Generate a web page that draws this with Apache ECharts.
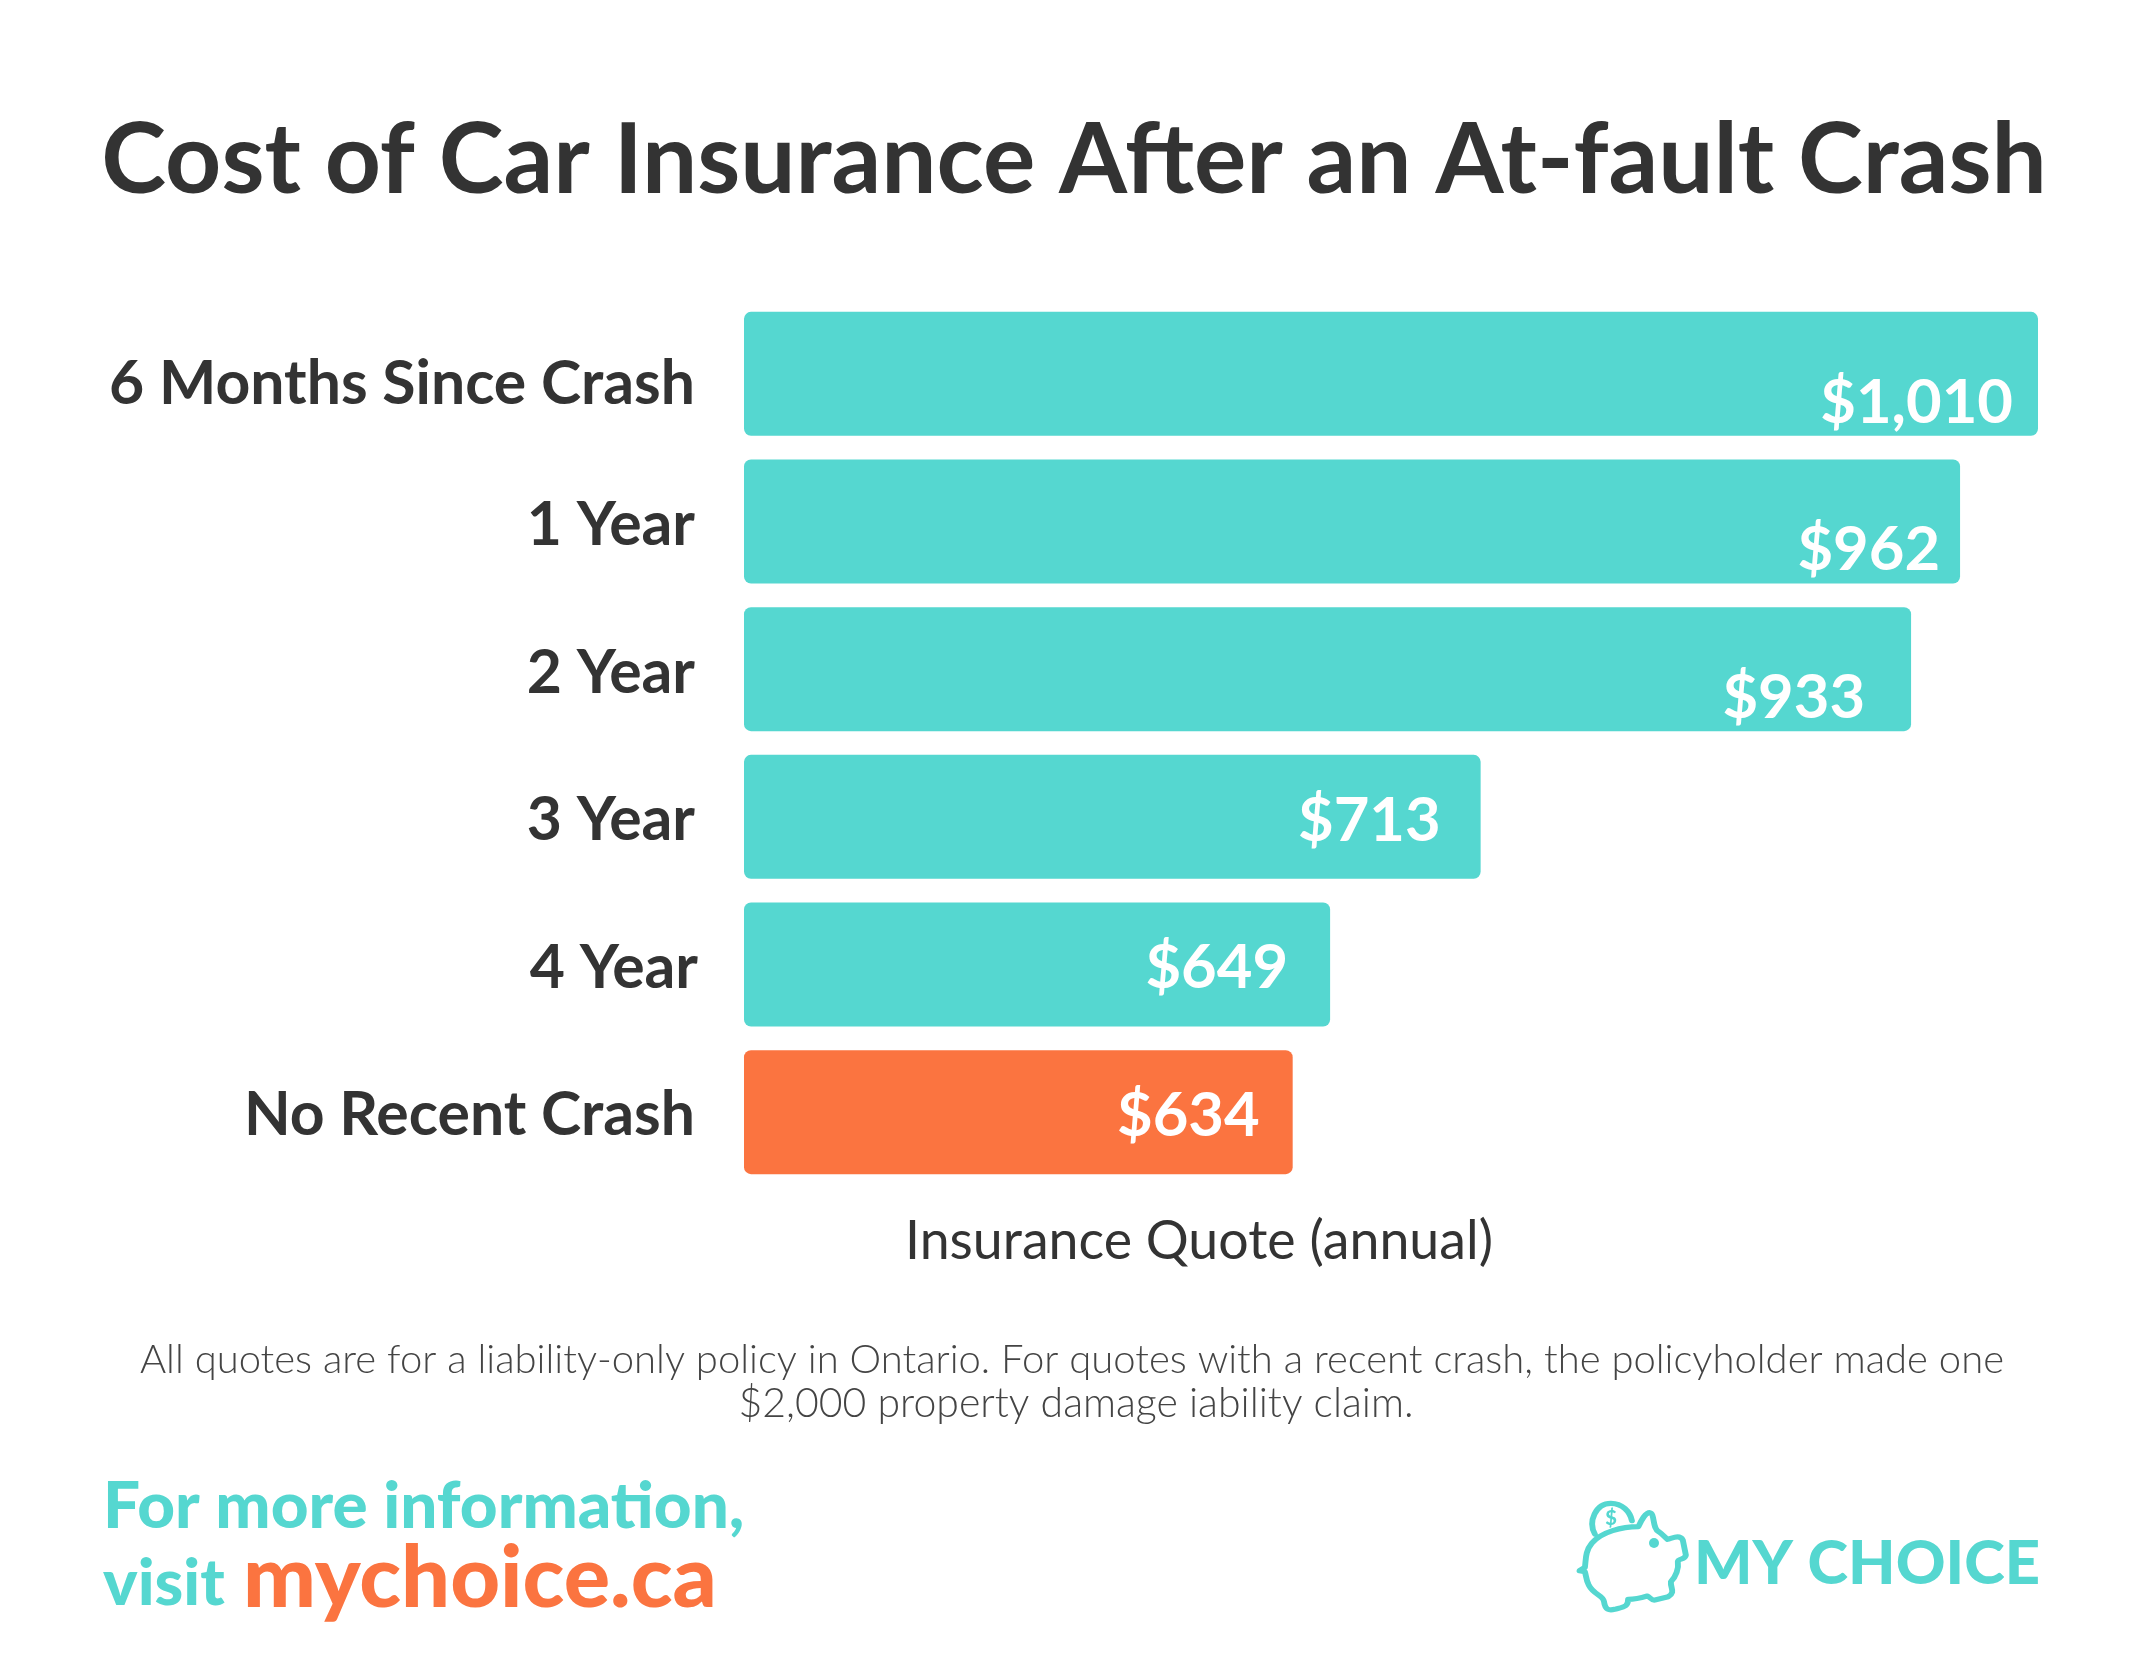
<!DOCTYPE html>
<html>
<head>
<meta charset="utf-8">
<title>Cost of Car Insurance After an At-fault Crash</title>
<script src="https://cdn.jsdelivr.net/npm/echarts@6/dist/echarts.min.js"></script>
<style>
html, body { margin: 0; padding: 0; background: #fff; }
#chartContainer { width: 2144px; height: 1656px; }
</style>
</head>
<body>
<div id="chartContainer"></div>
<script>
var categories = ['6 Months Since Crash', '1 Year', '2 Year', '3 Year', '4 Year', 'No Recent Crash'];
var quotes = [1010, 962, 933, 713, 649, 634];
var highlighted = ['No Recent Crash'];
var valueLabels = ['$1,010', '$962', '$933', '$713', '$649', '$634'];

// label placement per bar: distance from bar end, vertical shift
var labelInset = [25, 20, 46, 40, 42, 33];
var labelDrop = [29, 29, 29, 4, 4, 4];
// category label nudges (top padding, right padding)
var categoryPadTop = [22, 8, 8, 8, 8, 6];
var categoryPadRight = [0, 0, 0, 0, -3, 0];

var TEAL = '#55d7d0';
var ORANGE = '#fb7440';
var DARK = '#333333';
var FONT = 'Lato';

// piggy bank logo, traced in the zoomed crop's coordinates
var PIGGY_PATH = 'M362 200 C370 180 380 158 392 158 C405 160 398 205 415 215 C425 222 430 232 438 238 ' +
    'C450 235 470 222 478 240 L486 285 C485 300 465 295 465 305 C468 325 460 350 447 365 ' +
    'C445 385 460 395 440 410 L405 420 C395 422 392 410 385 408 C365 415 350 418 335 418 ' +
    'C335 440 325 440 300 448 C285 452 275 450 272 425 C270 405 245 405 232 375 ' +
    'C225 360 225 345 222 335 L208 332 L222 322 C225 300 222 275 240 250 C265 215 320 200 362 200 Z ' +
    'M248 222 C230 185 250 130 290 130 C320 130 340 155 345 182';
echarts.graphic.registerShape('piggy', echarts.graphic.extendPath(PIGGY_PATH, {}));

var myChart = echarts.init(document.getElementById('chartContainer'));

var barData = quotes.map(function(v, i) {
    return {
        value: v,
        itemStyle: {color: highlighted.indexOf(categories[i]) >= 0 ? ORANGE : TEAL},
        label: {
            position: 'insideRight',
            distance: labelInset[i],
            offset: [0, labelDrop[i]],
            formatter: valueLabels[i]
        }
    };
});

var categoryRich = {};
categories.forEach(function(name, i) {
    categoryRich['c' + i] = {
        fontFamily: FONT,
        fontSize: 60.7,
        fontWeight: 700,
        color: DARK,
        padding: [categoryPadTop[i], categoryPadRight[i], 0, 0]
    };
});

myChart.setOption({
    animation: false,
    backgroundColor: '#ffffff',
    textStyle: {fontFamily: FONT},
    title: {
        text: 'Cost of Car Insurance After an At-fault Crash',
        left: 1069,
        top: 156,
        textAlign: 'center',
        textVerticalAlign: 'middle',
        textStyle: {fontFamily: FONT, fontSize: 98, fontWeight: 700, color: DARK}
    },
    grid: {left: 744, top: 300, width: 1294, height: 886},
    // the bars in the picture follow a log scale starting near $450
    xAxis: {
        type: 'log',
        min: 450,
        max: 1010,
        show: false
    },
    yAxis: {
        type: 'category',
        inverse: true,
        data: categories,
        axisLine: {show: false},
        axisTick: {show: false},
        axisLabel: {
            margin: 49,
            rich: categoryRich,
            formatter: function(value) {
                return '{c' + categories.indexOf(value) + '|' + value + '}';
            }
        }
    },
    series: [{
        type: 'bar',
        data: barData,
        barWidth: 124,
        itemStyle: {borderRadius: 7},
        label: {
            show: true,
            fontFamily: FONT,
            fontSize: 61.5,
            fontWeight: 700,
            color: '#ffffff'
        }
    }],
    graphic: [
        {
            type: 'text', x: 1199, y: 1242,
            style: {
                text: 'Insurance Quote (annual)', align: 'center', verticalAlign: 'middle',
                font: '400 53.7px ' + FONT, fill: DARK
            }
        },
        {
            type: 'text', x: 1072, y: 1360,
            style: {
                text: 'All quotes are for a liability-only policy in Ontario. For quotes with a recent crash, the policyholder made one',
                align: 'center', verticalAlign: 'middle', font: '300 40px ' + FONT, fill: '#444444'
            }
        },
        {
            type: 'text', x: 1076, y: 1404,
            style: {
                text: '$2,000 property damage iability claim.',
                align: 'center', verticalAlign: 'middle', font: '300 41px ' + FONT, fill: '#444444'
            }
        },
        {
            type: 'text', x: 103, y: 1507,
            style: {
                text: 'For more information,', align: 'left', verticalAlign: 'middle',
                font: '900 65.6px ' + FONT, fill: TEAL
            }
        },
        {
            type: 'text', x: 103, y: 1584,
            style: {
                text: 'visit', align: 'left', verticalAlign: 'middle',
                font: '900 65px ' + FONT, fill: TEAL
            }
        },
        {
            type: 'text', x: 243, y: 1579,
            style: {
                text: 'mychoice.ca', align: 'left', verticalAlign: 'middle',
                font: '900 86.5px ' + FONT, fill: ORANGE
            }
        },
        {
            type: 'text', x: 1694, y: 1564,
            style: {
                text: 'MY CHOICE', align: 'left', verticalAlign: 'middle',
                font: '900 61.5px ' + FONT, fill: TEAL
            }
        },
        {
            type: 'piggy', x: 1500, y: 1460, scaleX: 1 / 2.615, scaleY: 1 / 3,
            style: {fill: null, stroke: TEAL, lineWidth: 5.5, strokeNoScale: true, lineCap: 'round', lineJoin: 'round'}
        },
        {
            type: 'circle', shape: {cx: 1654, cy: 1543, r: 5},
            style: {fill: TEAL}
        },
        {
            type: 'text', x: 1611, y: 1519,
            style: {text: '$', align: 'center', verticalAlign: 'middle', font: '900 20px ' + FONT, fill: TEAL}
        }
    ]
});
</script>
</body>
</html>
